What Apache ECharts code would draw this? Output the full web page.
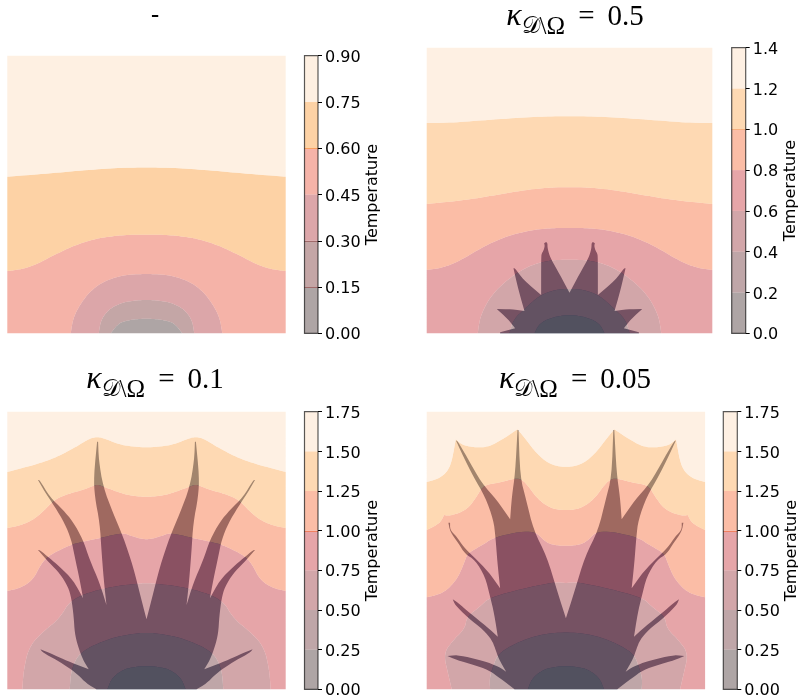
<!DOCTYPE html>
<html><head><meta charset="utf-8">
<style>html,body{margin:0;padding:0;background:#fff}#c{width:798px;height:700px}</style>
<script src="https://cdn.jsdelivr.net/npm/echarts@6/dist/echarts.min.js"></script>
</head><body><div id="c"></div>
<script>
// Left halves of the (mirror-symmetric) contour lines and inclusions, in domain units:
// x measured from the symmetry axis, y from the bottom of the domain.
const levelsA = [0, 0.15, 0.30, 0.45, 0.60, 0.75, 0.90];
const levelsB = [0, 0.2, 0.4, 0.6, 0.8, 1.0, 1.2, 1.4];
const levelsC = [0, 0.25, 0.5, 0.75, 1.0, 1.25, 1.5, 1.75];

const colors6 = ['#786969', '#9d6b6b', '#c56b70', '#ee806e', '#fcb469', '#fde6cf'];
const colors7 = ['#786969', '#946b6e', '#b46b70', '#d5696e', '#f8916b', '#fdc080', '#fde6d0'];

const titles = ['-', '0.5', '0.1', '0.05'];

const p1Lines = [
  [[-107,0],[-83,32],[-40,42],[0,44]],
  [[-143,0],[-137,40],[-110,75],[-70,93],[-30,99],[0,100]],
  [[-227,0],[-220,45],[-200,85],[-170,125],[-130,155],[-80,172],[-40,177],[0,178]],
  [[-417,187],[-380,191],[-340,202],[-280,233],[-220,262],[-160,282],[-100,292],[-40,296],[0,296]],
  [[-417,470],[-310,478],[-190,489],[-90,496],[0,498]]
];
const p2Lines = [
  [[-105,0],[-93,25],[-68,42],[-28,53],[0,55]],
  [[-180,0],[-169,40],[-133,75],[-88,115],[-38,132],[0,133]],
  [[-275,0],[-268,50],[-238,110],[-188,160],[-128,200],[-68,218],[0,222]],
  [[-428,190],[-378,197],[-328,218],[-258,260],[-188,292],[-108,311],[-48,316],[0,316]],
  [[-428,388],[-308,400],[-208,417],[-108,434],[0,440]],
  [[-428,631],[-350,632],[-208,643],[-100,650],[0,652]]
];
const p2Shape = [[-208,0],[-208,3],[-193,7],[-163,15],[-184,42],[-218,73],[-173,72],[-135,67],[-153,130],[-168,195],[-163,195],[-138,160],[-85,115],[-85,230],[-83,240],[-78,248],[-74,262],[-76,270],[-70,274],[-66,270],[-66,258],[-62,240],[-55,222],[-30,178],[0,122]];
const p3Lines = [
  [[-117,0],[-105,33],[-70,60],[-30,68],[0,70]],
  [[-230,0],[-226,58],[-200,113],[-110,153],[-40,167],[0,170]],
  [[-372,0],[-368,58],[-352,128],[-310,173],[-260,213],[-225,273],[-120,306],[-20,318],[0,318]],
  [[-417,295],[-380,303],[-340,328],[-315,378],[-290,403],[-230,433],[-190,443],[-130,456],[-70,470],[-40,458],[0,448]],
  [[-417,484],[-380,491],[-340,508],[-310,533],[-275,570],[-230,588],[-190,598],[-155,613],[-140,613],[-95,595],[-50,581],[0,577]],
  [[-417,652],[-330,675],[-270,696],[-210,728],[-170,753],[-145,758],[-120,750],[-70,731],[0,725]]
];
const p3Shape = [[-150,0],[-180,18],[-205,43],[-230,63],[-270,88],[-310,110],[-318,120],[-305,115],[-270,100],[-225,80],[-173,60],[-190,88],[-205,128],[-215,168],[-218,218],[-225,273],[-235,308],[-260,348],[-290,378],[-325,418],[-320,418],[-290,393],[-260,368],[-220,328],[-190,273],[-200,328],[-215,398],[-225,448],[-245,498],[-275,548],[-305,593],[-325,628],[-320,628],[-290,578],[-250,538],[-220,503],[-190,448],[-170,388],[-140,318],[-120,253],[-128,328],[-135,418],[-140,498],[-155,578],[-158,638],[-148,743],[-145,743],[-143,688],[-130,608],[-100,528],[-70,458],[-40,368],[-15,268],[0,210]];
const p4Lines = [
  [[-114,0],[-102,33],[-67,60],[-27,68],[0,70]],
  [[-227,0],[-229,33],[-217,73],[-202,108],[-147,140],[-77,165],[0,172]],
  [[-342,0],[-352,43],[-367,108],[-337,148],[-302,183],[-297,218],[-257,248],[-227,278],[-37,323],[0,318]],
  [[-417,276],[-367,288],[-327,328],[-305,378],[-295,408],[-250,433],[-212,458],[-97,480],[-60,440],[-30,432],[0,430]],
  [[-417,478],[-377,498],[-365,523],[-347,520],[-297,538],[-267,578],[-247,613],[-197,620],[-147,635],[-122,623],[-87,573],[-47,543],[0,536]],
  [[-417,622],[-377,633],[-345,665],[-330,750],[-310,733],[-270,725],[-230,728],[-190,750],[-145,780],[-120,750],[-90,710],[-50,675],[0,665]]
];
const p4Shape = [[-154,0],[-197,33],[-232,58],[-277,73],[-327,88],[-355,100],[-327,103],[-277,93],[-232,80],[-202,68],[-179,53],[-202,93],[-212,123],[-222,148],[-247,178],[-297,218],[-332,253],[-339,270],[-327,263],[-287,228],[-237,188],[-204,158],[-215,228],[-227,278],[-242,338],[-272,388],[-302,406],[-322,438],[-347,473],[-352,500],[-347,500],[-347,478],[-327,458],[-307,428],[-277,398],[-232,353],[-197,303],[-205,378],[-211,458],[-217,508],[-242,578],[-277,638],[-307,698],[-329,746],[-325,746],[-297,698],[-252,618],[-207,568],[-167,510],[-162,578],[-152,648],[-145,778],[-142,778],[-137,638],[-119,568],[-97,478],[-57,398],[-27,298],[0,213]];

const panels = [
  {lines:p1Lines, shape:null,    levels:levelsA, colors:colors6, half:417, high:833, digits:2, seams:{1:'#a06a6a',2:'#a06a6a',4:'#f8a060'},
   box:[7.3,55.7,278.4,277.6], bar:[304.5,55.7,13.5,277.6], title:[155,5]},
  {lines:p2Lines, shape:p2Shape, levels:levelsB, colors:colors7, half:428, high:857, digits:1, seams:{5:'#f8b080'},
   box:[426.7,47.7,285.6,285.6], bar:[731.7,47.7,14,285.6], title:[575,-3]},
  {lines:p3Lines, shape:p3Shape, levels:levelsC, colors:colors7, half:417, high:833, digits:2, seams:{4:'#f08060'},
   box:[7.3,411.7,278.4,277.6], bar:[304.5,411.7,13.5,277.6], title:[155,360]},
  {lines:p4Lines, shape:p4Shape, levels:levelsC, colors:colors7, half:417, high:833, digits:2, seams:{4:'#f08060'},
   box:[426.7,411.7,278.4,277.6], bar:[723.3,411.7,14,277.6], title:[575,360]}
];

const mirror = h => h.concat(h.slice(0, -1).reverse().map(p => [-p[0], p[1]]));

// Rounds gentle bends of a drawn outline, leaving sharp tips and notches alone.
function rounded(pts, passes) {
  let cur = pts;
  for (let k = 0; k < passes; k++) {
    const out = [cur[0]];
    for (let i = 1; i < cur.length - 1; i++) {
      const a = cur[i - 1], b = cur[i], c = cur[i + 1];
      const t = Math.abs(Math.atan2((b[0]-a[0])*(c[1]-b[1]) - (b[1]-a[1])*(c[0]-b[0]), (b[0]-a[0])*(c[0]-b[0]) + (b[1]-a[1])*(c[1]-b[1])));
      if (t < 1.1) {
        out.push([b[0] + (a[0]-b[0])*0.25, b[1] + (a[1]-b[1])*0.25], [b[0] + (c[0]-b[0])*0.25, b[1] + (c[1]-b[1])*0.25]);
      } else out.push(b);
    }
    out.push(cur[cur.length - 1]);
    cur = out;
  }
  return cur;
}

const grid = [], xAxis = [], yAxis = [], series = [], title = [];
const sans = '"DejaVu Sans", sans-serif';
const serif = '"Liberation Serif", serif';

panels.forEach((p, idx) => {
  const g = grid.length;
  grid.push({left:p.box[0], top:p.box[1], width:p.box[2], height:p.box[3], outerBoundsMode:'none'});
  xAxis.push({gridIndex:g, type:'value', min:-p.half, max:p.half, show:false});
  yAxis.push({gridIndex:g, type:'value', min:0, max:p.high, show:false});

  if (p.shape) {
    const pts = rounded(mirror(p.shape), 2);
    series.push({type:'custom', coordinateSystem:'cartesian2d', xAxisIndex:g, yAxisIndex:g, silent:true, z:1,
      data:[[0,0]],
      renderItem:(params, api) => ({type:'polygon', shape:{points:pts.map(q => api.coord(q))}, style:{fill:'#1b2d50'}})});
  }

  const top = [[-p.half, p.high], [p.half, p.high]];
  const lines = p.lines.map(l => rounded(mirror(l), 3)).concat([top]);
  series.push({type:'custom', coordinateSystem:'cartesian2d', xAxisIndex:g, yAxisIndex:g, silent:true, z:2,
    data:lines.map((_, i) => [i, i]),
    renderItem:(params, api) => {
      const i = params.dataIndex, up = lines[i], low = i ? lines[i - 1] : [];
      const n = up[up.length - 1];
      const ring = up.concat([[n[0], 0]], low.slice().reverse(), [[up[0][0], 0]]);
      return {type:'polygon', shape:{points:ring.map(q => api.coord(q))}, style:{fill:p.colors[i], opacity:0.6}};
    }});

  const b = grid.length;
  const lv = p.levels, lo = lv[0], hi = lv[lv.length - 1];
  grid.push({left:p.bar[0], top:p.bar[1], width:p.bar[2], height:p.bar[3], outerBoundsMode:'none'});
  xAxis.push({gridIndex:b, type:'value', min:0, max:1, show:false});
  yAxis.push({gridIndex:b, type:'value', position:'right', min:lo, max:hi, interval:lv[1] - lv[0],
    splitLine:{show:false},
    axisLine:{show:false, onZero:false},
    axisTick:{show:true, length:4, lineStyle:{color:'#000', width:1}},
    axisLabel:{show:true, margin:7, verticalAlign:'top', lineHeight:4, color:'#000', fontFamily:sans, fontSize:16, formatter:v => v.toFixed(p.digits)},
    name:'Temperature', nameLocation:'middle', nameRotate:90, nameGap:idx === 1 ? 37 : 47,
    nameTextStyle:{color:'#000', fontFamily:sans, fontSize:16}});
  const bands = p.colors.map((c, i) => [i, i]);
  series.push({type:'custom', coordinateSystem:'cartesian2d', xAxisIndex:b, yAxisIndex:b, silent:true, z:2,
    data:bands,
    renderItem:(params, api) => {
      const i = params.dataIndex;
      const a = api.coord([0, lv[i]]), c = api.coord([1, lv[i + 1]]);
      return {type:'rect', shape:{x:a[0], y:c[1], width:c[0] - a[0], height:a[1] - c[1]}, style:{fill:p.colors[i], opacity:0.6}};
    }});
  series.push({type:'custom', coordinateSystem:'cartesian2d', xAxisIndex:b, yAxisIndex:b, silent:true, z:3,
    data:Object.keys(p.seams).map(k => [+k, +k]),
    renderItem:(params, api) => {
      const k = Object.keys(p.seams)[params.dataIndex];
      const a = api.coord([0, lv[+k]]), c = api.coord([1, lv[+k]]);
      return {type:'line', shape:{x1:a[0], y1:Math.round(a[1]) + 0.5, x2:c[0], y2:Math.round(a[1]) + 0.5}, style:{stroke:p.seams[k], lineWidth:1}};
    }});
  series.push({type:'custom', coordinateSystem:'cartesian2d', xAxisIndex:b, yAxisIndex:b, silent:true, z:4,
    data:[[0, lo]],
    renderItem:(params, api) => {
      const a = api.coord([0, lo]), c = api.coord([1, hi]);
      return {type:'rect', shape:{x:a[0], y:c[1], width:c[0] - a[0], height:a[1] - c[1]}, style:{fill:'none', stroke:'rgba(0,0,0,0.65)', lineWidth:1.2}};
    }});

  const t = titles[idx];
  if (t === '-') {
    title.push({text:'-', left:p.title[0], top:p.title[1], padding:0, textAlign:'center', textStyle:{fontFamily:sans, fontSize:24, fontWeight:'normal', color:'#000'}});
  } else {
    title.push({text:'{k|\u03BA}{s|\uD835\uDC9F}{b|\\\u03A9}{n| \u2009= \u2009' + t + '}', left:p.title[0], top:p.title[1], padding:0, textAlign:'center',
      textStyle:{fontWeight:'normal', rich:{
        k:{fontFamily:serif, fontStyle:'italic', fontWeight:'normal', fontSize:32, color:'#000', lineHeight:40},
        s:{fontFamily:'"DejaVu Sans", "Noto Sans", serif', fontWeight:'normal', fontSize:23, color:'#000', lineHeight:40, padding:[20,0,0,0]},
        b:{fontFamily:serif, fontWeight:'normal', fontSize:25, color:'#000', lineHeight:40, padding:[20,0,0,0]},
        n:{fontFamily:serif, fontWeight:'normal', fontSize:29, color:'#000', lineHeight:40}
      }}});
  }
});

const chart = echarts.init(document.getElementById('c'), null, {renderer:'canvas', width:798, height:700});
chart.setOption({animation:false, backgroundColor:'#fff', title, grid, xAxis, yAxis, series});
</script></body></html>
